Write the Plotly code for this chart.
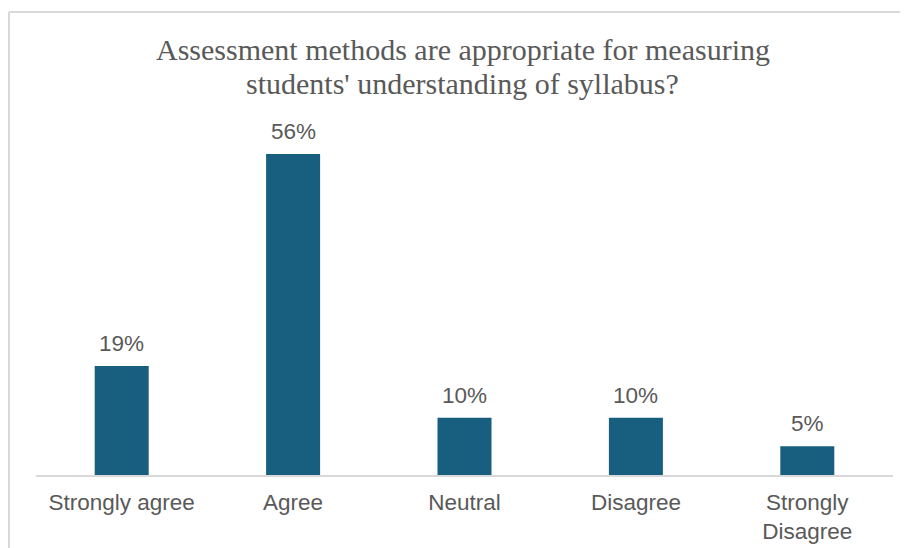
import plotly.graph_objects as go

# survey answers
categories = ["Strongly agree", "Agree", "Neutral", "Disagree", "Strongly<br>Disagree"]
percent = [19, 56, 10, 10, 5]
labels = ["19%", "56%", "10%", "10%", "5%"]

title_lines = ["Assessment methods are appropriate for measuring",
               "students' understanding of syllabus?"]

grey = "#595959"
sans = "Liberation Sans, Arial"

fig = go.Figure()
fig.add_trace(go.Bar(
    x=categories,
    y=percent,
    marker=dict(color="#175E7F", line=dict(width=0)),
    hoverinfo="x+y",
))

# value labels above each bar
for cat, val, lab in zip(categories, percent, labels):
    fig.add_annotation(x=cat, y=val, text=lab, showarrow=False,
                       yanchor="bottom", yshift=8,
                       font=dict(family=sans, size=22.5, color=grey))

# two-line title with tighter spacing than plotly's default
fig.add_annotation(text=title_lines[0], xref="paper", yref="paper",
                   x=0.498, y=1.236, showarrow=False, yanchor="middle",
                   font=dict(family="Liberation Serif, Times New Roman", size=30, color=grey))
fig.add_annotation(text=title_lines[1], xref="paper", yref="paper",
                   x=0.498, y=1.138, showarrow=False, yanchor="middle",
                   font=dict(family="Liberation Serif, Times New Roman", size=30, color=grey))

# chart border (only top and left visible in the crop)
fig.add_shape(type="line", xref="paper", yref="paper",
              x0=-0.0315, x1=1.03, y0=1.346, y1=1.346,
              line=dict(color="#D9D9D9", width=2))
fig.add_shape(type="line", xref="paper", yref="paper",
              x0=-0.0315, x1=-0.0315, y0=1.346, y1=-0.25,
              line=dict(color="#D9D9D9", width=2))

fig.update_layout(
    width=908, height=548,
    margin=dict(l=28, r=23, t=123, b=81),
    paper_bgcolor="white", plot_bgcolor="white",
    showlegend=False,
    bargap=0.685,
    xaxis=dict(
        showline=True, linecolor="#D9D9D9", linewidth=2,
        ticks="", showgrid=False, ticklabelstandoff=6,
        tickfont=dict(family=sans, size=22.5, color=grey),
    ),
    yaxis=dict(range=[0, 60], visible=False, showgrid=False),
)

fig.write_html("out.html")
